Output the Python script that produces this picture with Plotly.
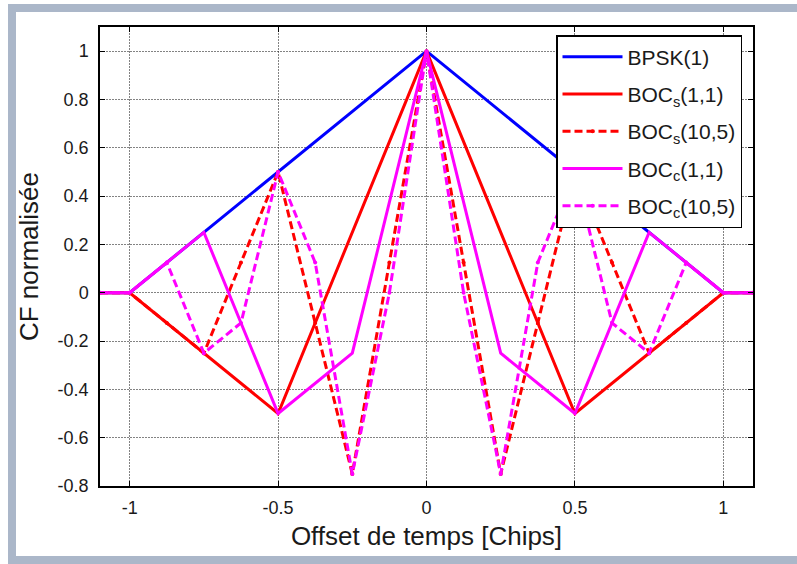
import plotly.graph_objects as go

# Normalised correlation functions vs. time offset (chips)
x_bpsk = [-1.1, -1.0, 0.0, 1.0, 1.1]
y_bpsk = [0.0, 0.0, 1.0, 0.0, 0.0]

x_bocs11 = [-1.1, -1.0, -0.5, 0.0, 0.5, 1.0, 1.1]
y_bocs11 = [0.0, 0.0, -0.5, 1.0, -0.5, 0.0, 0.0]

x_eighth = [-1.1, -1.0, -0.875, -0.75, -0.625, -0.5, -0.375, -0.25, -0.125, 0.0,
            0.125, 0.25, 0.375, 0.5, 0.625, 0.75, 0.875, 1.0, 1.1]
y_bocs105 = [0.0, 0.0, -0.125, -0.25, 0.125, 0.5, -0.125, -0.75, 0.125, 1.0,
             0.125, -0.75, -0.125, 0.5, 0.125, -0.25, -0.125, 0.0, 0.0]

x_bocc11 = [-1.1, -1.0, -0.75, -0.5, -0.25, 0.0, 0.25, 0.5, 0.75, 1.0, 1.1]
y_bocc11 = [0.0, 0.0, 0.25, -0.5, -0.25, 1.0, -0.25, -0.5, 0.25, 0.0, 0.0]

y_bocc105 = [0.0, 0.0, 0.125, -0.25, -0.125, 0.5, 0.125, -0.75, 0.0, 1.0,
             0.0, -0.75, 0.125, 0.5, -0.125, -0.25, 0.125, 0.0, 0.0]

x_ticks = [-1, -0.5, 0, 0.5, 1]
x_ticklabels = ["-1", "-0.5", "0", "0.5", "1"]
y_ticks = [-0.8, -0.6, -0.4, -0.2, 0, 0.2, 0.4, 0.6, 0.8, 1]
y_ticklabels = ["-0.8", "-0.6", "-0.4", "-0.2", "0", "0.2", "0.4", "0.6", "0.8", "1"]

BLUE = "#0000ff"
RED = "#ff0000"
MAG = "#ff00ff"
DASH = "8px,4px"
FONT = "Liberation Sans, Arial, sans-serif"
INK = "#1a1a1a"

fig = go.Figure()
fig.add_trace(go.Scatter(x=x_bpsk, y=y_bpsk, mode="lines", name="BPSK(1)",
                         legendgroup="g1",
                         line=dict(color=BLUE, width=3)))
fig.add_trace(go.Scatter(x=x_bocs11, y=y_bocs11, mode="lines", name="BOC<sub>s</sub>(1,1)",
                         legendgroup="g2",
                         line=dict(color=RED, width=3)))
fig.add_trace(go.Scatter(x=x_eighth, y=y_bocs105, mode="lines+markers", name="BOC<sub>s</sub>(10,5)",
                         legendgroup="g3",
                         line=dict(color=RED, width=3, dash=DASH),
                         marker=dict(color=RED, size=4)))
fig.add_trace(go.Scatter(x=x_bocc11, y=y_bocc11, mode="lines", name="BOC<sub>c</sub>(1,1)",
                         legendgroup="g4",
                         line=dict(color=MAG, width=3)))
fig.add_trace(go.Scatter(x=x_eighth, y=y_bocc105, mode="lines+markers", name="BOC<sub>c</sub>(10,5)",
                         legendgroup="g5",
                         line=dict(color=MAG, width=3, dash=DASH),
                         marker=dict(color=MAG, size=4)))

# plot-area geometry in pixels (used to place the page frame and legend)
L, R, T, B = 100, 753, 27, 486
W, H = 797, 564
def px(x):
    return (x - L) / (R - L)
def py(y):
    return (B - y) / (B - T)

FRAME = "#abb7c9"
frame = [
    (8, 4, 800, 12),     # top band
    (8, 4, 16, 570),     # left band
    (8, 556, 800, 570),  # bottom band
]
shapes = [dict(type="rect", xref="paper", yref="paper",
               x0=px(a), x1=px(c), y0=py(d), y1=py(b),
               fillcolor=FRAME, line=dict(width=0), layer="below")
          for a, b, c, d in frame]

axis_common = dict(
    showline=True, linecolor="black", linewidth=1.5, mirror="ticks",
    ticks="inside", ticklen=5, tickcolor="black", tickwidth=1,
    showgrid=True, gridcolor="rgba(30,30,30,0.55)", gridwidth=1, griddash="2px,1px",
    zeroline=False,
    tickfont=dict(family=FONT, size=18, color=INK),
)

fig.update_layout(
    width=W, height=H,
    margin=dict(l=L, r=W - R, t=T, b=H - B),
    paper_bgcolor="white", plot_bgcolor="white",
    font=dict(family=FONT, color=INK),
    shapes=shapes,
    showlegend=True,
    legend=dict(x=px(556), y=py(35), xanchor="left", yanchor="top",
                bgcolor="white", bordercolor="black", borderwidth=1.5,
                font=dict(size=21, color=INK), itemwidth=60,
                traceorder="grouped", tracegroupgap=7),
    xaxis=dict(range=[-1.1, 1.1], tickvals=x_ticks, ticktext=x_ticklabels,
               ticklabelstandoff=5,
               title=dict(text="Offset de temps [Chips]", standoff=9,
                          font=dict(size=26, color=INK)),
               **axis_common),
    yaxis=dict(range=[-0.8, 1.1], tickvals=y_ticks, ticktext=y_ticklabels,
               ticklabelstandoff=6,
               title=dict(text="CF normalisée", standoff=12,
                          font=dict(size=26, color=INK)),
               **axis_common),
)

fig.write_html("out.html")
